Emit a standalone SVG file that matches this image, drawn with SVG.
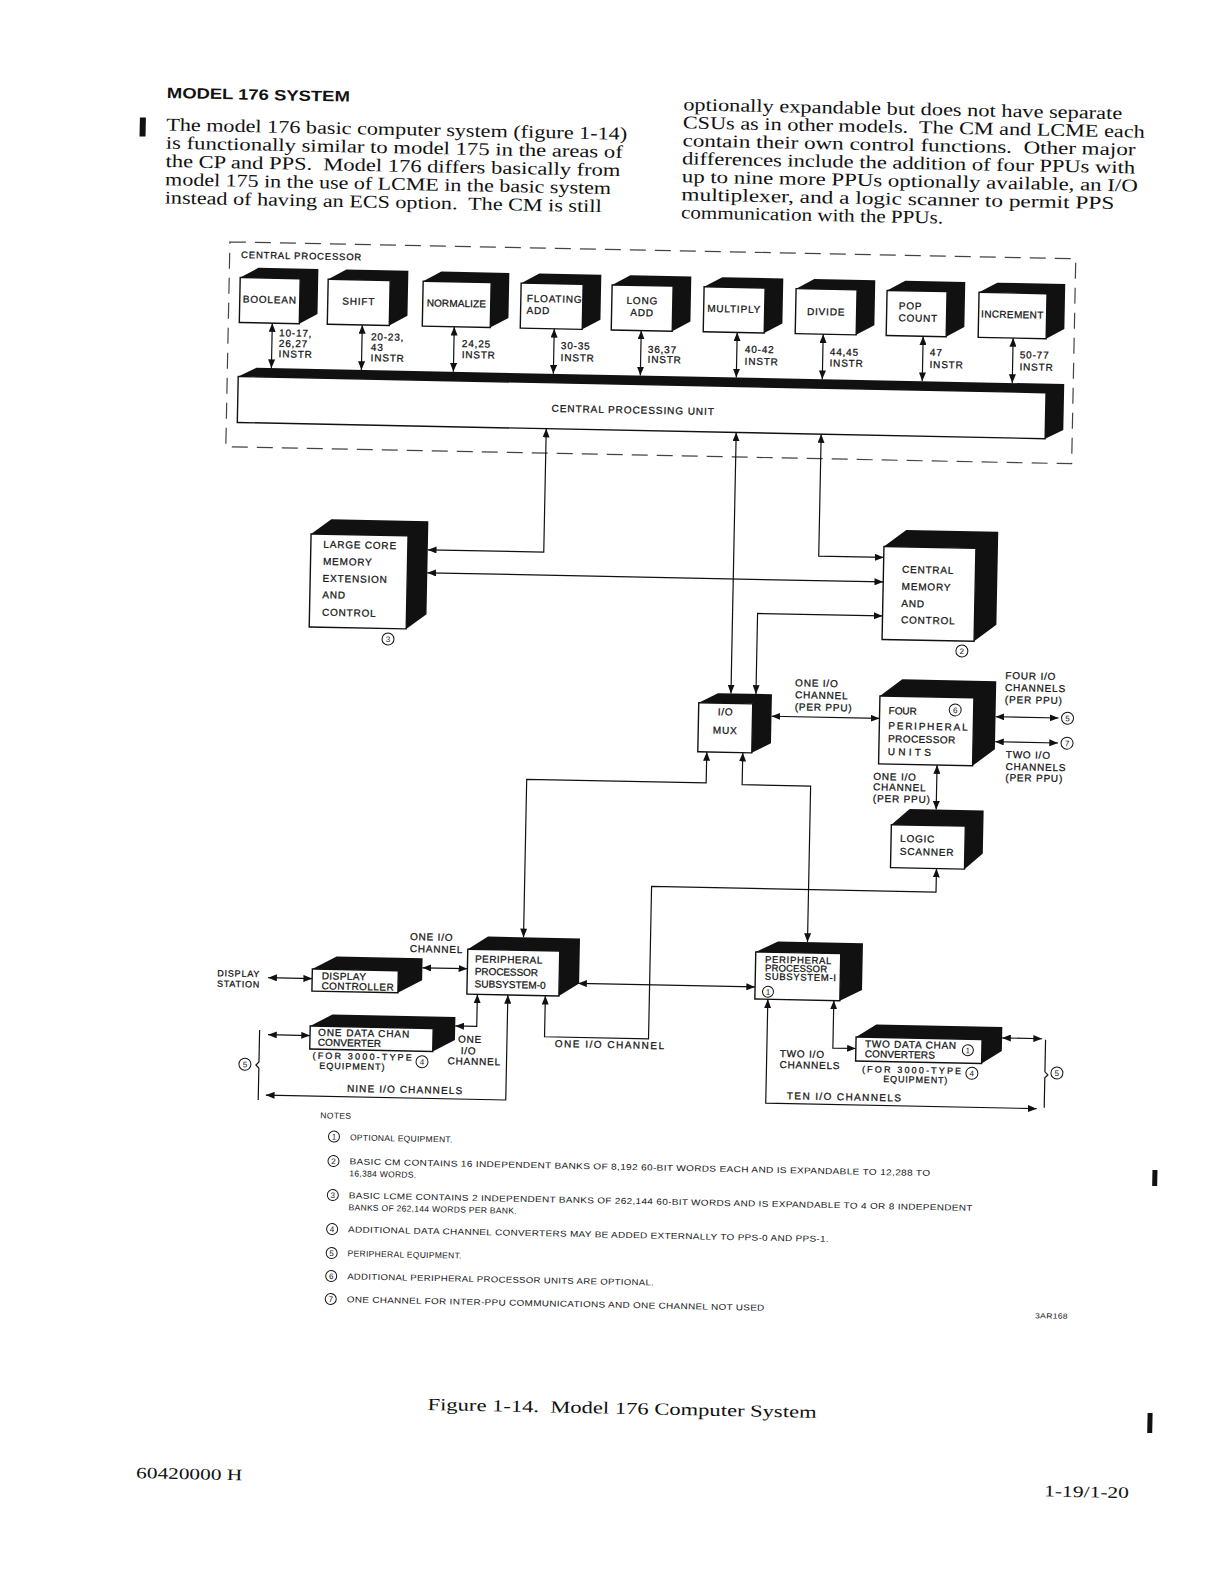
<svg xmlns="http://www.w3.org/2000/svg" width="1218" height="1581" viewBox="0 0 1218 1581">
<defs>
<style>
.lbl{font-family:"Liberation Sans",Arial,sans-serif;font-size:10px;letter-spacing:0.8px;fill:#111;stroke:#111;stroke-width:0.25}
.sm{font-family:"Liberation Sans",Arial,sans-serif;font-size:8.5px;letter-spacing:0.3px;fill:#111}
.ser{font-family:"Liberation Serif","Times New Roman",serif;font-size:18px;fill:#111}
.ttl{font-family:"Liberation Sans",Arial,sans-serif;font-size:15px;font-weight:bold;fill:#111}
.c{text-anchor:middle}
.blk{fill:#111}
.face{fill:#fff;stroke:#111;stroke-width:1.4}
.ln{fill:none;stroke:#111;stroke-width:1.2}
.ar{marker-start:url(#ah);marker-end:url(#ah)}
.dash{fill:none;stroke:#444;stroke-width:1.2;stroke-dasharray:16 9}
.cir{fill:#fff;stroke:#111;stroke-width:1}
.num{font-family:"Liberation Sans",Arial,sans-serif;font-size:8px;text-anchor:middle;fill:#111}
.bar{fill:#111}
</style>
<marker id="ah" viewBox="0 0 10 8" refX="10" refY="4" markerWidth="9" markerHeight="7" orient="auto-start-reverse" markerUnits="userSpaceOnUse"><path d="M0,0 L10,4 L0,8 z" fill="#111"/></marker>
</defs>
<rect width="1218" height="1581" fill="#fff"/>
<g transform="rotate(1.15 609 790)">

<g id="page-text">
<rect class="bar" x="126.5" y="127" width="6" height="19"/>
<text class="ttl" x="153" y="107" textLength="183" lengthAdjust="spacingAndGlyphs">MODEL 176 SYSTEM</text>
<text class="ser" x="153" y="139.5" textLength="461" lengthAdjust="spacingAndGlyphs">The model 176 basic computer system (figure 1-14)</text>
<text class="ser" x="153" y="157.7" textLength="457" lengthAdjust="spacingAndGlyphs">is functionally similar to model 175 in the areas of</text>
<text class="ser" x="153" y="176" textLength="455" lengthAdjust="spacingAndGlyphs">the CP and PPS.&#160; Model 176 differs basically from</text>
<text class="ser" x="153" y="194.2" textLength="446" lengthAdjust="spacingAndGlyphs">model 175 in the use of LCME in the basic system</text>
<text class="ser" x="153" y="212.5" textLength="437" lengthAdjust="spacingAndGlyphs">instead of having an ECS option.&#160; The CM is still</text>
<text class="ser" x="669.5" y="109" textLength="439" lengthAdjust="spacingAndGlyphs">optionally expandable but does not have separate</text>
<text class="ser" x="669.5" y="127" textLength="462" lengthAdjust="spacingAndGlyphs">CSUs as in other models.&#160; The CM and LCME each</text>
<text class="ser" x="669.5" y="145" textLength="453" lengthAdjust="spacingAndGlyphs">contain their own control functions.&#160; Other major</text>
<text class="ser" x="669.5" y="163" textLength="453" lengthAdjust="spacingAndGlyphs">differences include the addition of four PPUs with</text>
<text class="ser" x="669.5" y="181" textLength="456" lengthAdjust="spacingAndGlyphs">up to nine more PPUs optionally available, an I/O</text>
<text class="ser" x="669.5" y="199" textLength="433" lengthAdjust="spacingAndGlyphs">multiplexer, and a logic scanner to permit PPS</text>
<text class="ser" x="669.5" y="217" textLength="262" lengthAdjust="spacingAndGlyphs">communication with the PPUs.</text>
</g>

<g id="cp-frame">
<rect class="dash" x="219" y="249.5" width="846" height="205"/>
<text class="lbl" x="230.5" y="265.5" style="font-size:9.5px">CENTRAL PROCESSOR</text>
</g>

<g id="boolean"><polygon class="blk" points="230,285 248,275 308,275 308,320 290,330 290,285"/><rect class="face" x="230" y="285" width="60" height="45"/><text class="lbl c" x="260" y="310">BOOLEAN</text></g>
<g id="shift"><polygon class="blk" points="318,285 336,275 398,275 398,320 380,330 380,285"/><rect class="face" x="318" y="285" width="62" height="45"/><text class="lbl c" x="349" y="310">SHIFT</text></g>
<g id="normalize"><polygon class="blk" points="413,285 431,275 499,275 499,320 481,330 481,285"/><rect class="face" x="413" y="285" width="68" height="45"/><text class="lbl c" x="447" y="310" textLength="60">NORMALIZE</text></g>
<g id="floating-add"><polygon class="blk" points="511,285 529,275 591,275 591,320 573,330 573,285"/><rect class="face" x="511" y="285" width="62" height="45"/><text class="lbl" x="517" y="303.5">FLOATING</text><text class="lbl" x="517" y="315.5">ADD</text></g>
<g id="long-add"><polygon class="blk" points="602,285 620,275 681,275 681,320 663,330 663,285"/><rect class="face" x="602" y="285" width="61" height="45"/><text class="lbl c" x="632.5" y="303.5">LONG</text><text class="lbl c" x="632.5" y="315.5">ADD</text></g>
<g id="multiply"><polygon class="blk" points="694,285 712,275 773,275 773,320 755,330 755,285"/><rect class="face" x="694" y="285" width="61" height="45"/><text class="lbl c" x="724.5" y="310">MULTIPLY</text></g>
<g id="divide"><polygon class="blk" points="786,285 804,275 865,275 865,320 847,330 847,285"/><rect class="face" x="786" y="285" width="61" height="45"/><text class="lbl c" x="816.5" y="311">DIVIDE</text></g>
<g id="pop-count"><polygon class="blk" points="877,285 895,275 955,275 955,320 937,330 937,285"/><rect class="face" x="877" y="285" width="60" height="45"/><text class="lbl" x="889" y="303.5">POP</text><text class="lbl" x="889" y="315.5">COUNT</text></g>
<g id="increment"><polygon class="blk" points="969,285 987,275 1055,275 1055,320 1037,330 1037,285"/><rect class="face" x="969" y="285" width="68" height="45"/><text class="lbl c" x="1003" y="310" textLength="63">INCREMENT</text></g>

<g id="cpu"><polygon class="blk" points="230,384 248,375 1056,375 1056,421 1038,430 1038,384"/><rect class="face" x="230" y="384" width="808" height="46"/><text class="lbl" x="544" y="413" textLength="163">CENTRAL PROCESSING UNIT</text></g>

<g id="lcme"><polygon class="blk" points="306,540 326,525 423,525 423,618 403,633 403,540"/><rect class="face" x="306" y="540" width="97" height="93"/>
<text class="lbl" x="318.5" y="553.5">LARGE CORE</text><text class="lbl" x="318.5" y="570.5">MEMORY</text><text class="lbl" x="318.5" y="587.5">EXTENSION</text><text class="lbl" x="318.5" y="604">AND</text><text class="lbl" x="318.5" y="621.5">CONTROL</text>
<circle class="cir" cx="385" cy="643.5" r="6"/><text class="num" x="385" y="646.5">3</text></g>

<g id="cm"><polygon class="blk" points="879,541 901,524 993,524 993,617 971,634 971,541"/><rect class="face" x="879" y="541" width="92" height="93"/>
<text class="lbl" x="897.5" y="567">CENTRAL</text><text class="lbl" x="897.5" y="584">MEMORY</text><text class="lbl" x="897.5" y="601">AND</text><text class="lbl" x="897.5" y="617.5">CONTROL</text>
<circle class="cir" cx="959" cy="644" r="6"/><text class="num" x="959" y="647">2</text></g>

<g id="io-mux"><polygon class="blk" points="697,701 716,691 770,691 770,740 751,750 751,701"/><rect class="face" x="697" y="701" width="54" height="49"/>
<text class="lbl c" x="724" y="713">I/O</text><text class="lbl c" x="724" y="731.5">MUX</text></g>

<g id="ppu"><polygon class="blk" points="878,690.5 900,673.5 994,673.5 994,741.5 972,758.5 972,690.5"/><rect class="face" x="878" y="690.5" width="94" height="68"/>
<text class="lbl" x="887" y="708.5" textLength="29">FOUR</text><text class="lbl" x="887" y="723.5" textLength="80">PERIPHERAL</text><text class="lbl" x="887" y="736.5" textLength="68">PROCESSOR</text><text class="lbl" x="887" y="749.5" textLength="44">UNITS</text>
<circle class="cir" cx="953.5" cy="703" r="6"/><text class="num" x="953.5" y="706">6</text></g>

<g id="logic-scanner"><polygon class="blk" points="892,819 910,803 984,803 984,846 966,862 966,819"/><rect class="face" x="892" y="819" width="74" height="43"/>
<text class="lbl" x="901" y="836">LOGIC</text><text class="lbl" x="901" y="849">SCANNER</text></g>

<g id="pps0"><polygon class="blk" points="471,952 491,939 583,939 583,984 563,997 563,952"/><rect class="face" x="471" y="952" width="92" height="45"/>
<text class="lbl" x="478.5" y="965" textLength="68">PERIPHERAL</text><text class="lbl" x="478.5" y="977.5" textLength="64">PROCESSOR</text><text class="lbl" x="478.5" y="990" textLength="72">SUBSYSTEM-0</text></g>

<g id="pps1"><polygon class="blk" points="759,949 781,938 866,938 866,985 844,996 844,949"/><rect class="face" x="759" y="949" width="85" height="47"/>
<text class="lbl" x="768.5" y="959.5" textLength="67" style="font-size:9.5px">PERIPHERAL</text><text class="lbl" x="768.5" y="968" textLength="63" style="font-size:9.5px">PROCESSOR</text><text class="lbl" x="768.5" y="976.5" textLength="72" style="font-size:9.5px">SUBSYSTEM-I</text>
<circle class="cir" cx="772" cy="988.5" r="5.5"/><text class="num" x="772" y="991.5">1</text></g>

<g id="display-controller"><polygon class="blk" points="316,975 340,962 426,962 426,984 402,997 402,975"/><rect class="face" x="316" y="975" width="86" height="22"/>
<text class="lbl" x="325.5" y="985" textLength="45">DISPLAY</text><text class="lbl" x="325.5" y="995" textLength="73">CONTROLLER</text></g>

<g id="display-station"><text class="lbl" x="221" y="984" textLength="43" style="font-size:9px">DISPLAY</text><text class="lbl" x="221" y="994.5" textLength="43" style="font-size:9px">STATION</text></g>

<g id="converter0"><polygon class="blk" points="315,1032 337,1020 460,1020 460,1043 438,1055 438,1032"/><rect class="face" x="315" y="1032" width="123" height="23"/>
<text class="lbl" x="323" y="1041.5" textLength="92">ONE DATA CHAN</text><text class="lbl" x="323" y="1051.5" textLength="64">CONVERTER</text>
<text class="lbl" x="318" y="1064.5" textLength="100" style="font-size:9px">(FOR 3000-TYPE</text><text class="lbl" x="325" y="1074.5" textLength="66" style="font-size:9px">EQUIPMENT)</text>
<circle class="cir" cx="427.5" cy="1065.5" r="6"/><text class="num" x="427.5" y="1068.5">4</text></g>

<g id="converters1"><polygon class="blk" points="861,1032 881,1019 1007,1019 1007,1043 987,1056 987,1032"/><rect class="face" x="861" y="1032" width="126" height="24"/>
<text class="lbl" x="870" y="1042" textLength="92">TWO DATA CHAN</text><text class="lbl" x="870" y="1052" textLength="71">CONVERTERS</text>
<circle class="cir" cx="973" cy="1043" r="5.5"/><text class="num" x="973" y="1046">1</text>
<text class="lbl" x="867.5" y="1067" textLength="100" style="font-size:9px">(FOR 3000-TYPE</text><text class="lbl" x="889" y="1076.5" textLength="65" style="font-size:9px">EQUIPMENT)</text>
<circle class="cir" cx="977.5" cy="1066" r="6"/><text class="num" x="977.5" y="1069">4</text></g>

<g id="peripherals">
<path class="ln" d="M264.5,1037 V1069 L261.5,1072 L264.5,1075 V1107"/>
<circle class="cir" cx="250.5" cy="1071.5" r="6"/><text class="num" x="250.5" y="1074.5">5</text>
<path class="ln" d="M1050.5,1031 V1063 L1053.5,1066 L1050.5,1069 V1099"/>
<circle class="cir" cx="1062.5" cy="1064" r="6"/><text class="num" x="1062.5" y="1067">5</text>
<circle class="cir" cx="1066" cy="709" r="6"/><text class="num" x="1066" y="712">5</text>
<circle class="cir" cx="1066" cy="734" r="6"/><text class="num" x="1066" y="737">7</text>
</g>

<g id="connectors">
<path class="ln ar" d="M263,330 V375"/>
<path class="ln ar" d="M353,330 V375"/>
<path class="ln ar" d="M445,330 V375"/>
<path class="ln ar" d="M545,330 V375"/>
<path class="ln ar" d="M632,330 V375"/>
<path class="ln ar" d="M728,330 V375"/>
<path class="ln ar" d="M814,330 V375"/>
<path class="ln ar" d="M914,330 V375"/>
<path class="ln ar" d="M1004,330 V375"/>
<path class="ln ar" d="M539,430 V553.5 H423"/>
<path class="ln ar" d="M423,576.5 H879"/>
<path class="ln ar" d="M814,430 V552 H879"/>
<path class="ln ar" d="M729,430 V691"/>
<path class="ln ar" d="M754,691 V610.5 H879"/>
<path class="ln ar" d="M770,713 H878"/>
<path class="ln ar" d="M994,709 H1057"/>
<path class="ln ar" d="M994,734 H1057"/>
<path class="ln ar" d="M936.5,758.5 V803"/>
<path class="ln ar" d="M706,750 V781 H526.5 V939"/>
<path class="ln ar" d="M742,750 V782 H810.5 V938"/>
<path class="ln ar" d="M582,984 H759"/>
<path class="ln ar" d="M938,862 V885.5 H653.5 V1038 H549.5 V997"/>
<path class="ln ar" d="M272,984.5 H316"/>
<path class="ln ar" d="M426,971.5 H471"/>
<path class="ln ar" d="M273,1041.5 H315"/>
<path class="ln ar" d="M481.5,997 V1029 H460"/>
<path class="ln ar" d="M512,997 V1102 H272"/>
<path class="ln ar" d="M772,996 V1100 H1043"/>
<path class="ln ar" d="M838,996 V1043.5 H861"/>
<path class="ln ar" d="M1007,1030 H1047"/>
</g>

<g id="connector-labels">
<text class="lbl"><tspan x="270" y="343">10-17,</tspan><tspan x="270" y="353.5">26,27</tspan><tspan x="270" y="364">INSTR</tspan></text>
<text class="lbl"><tspan x="362" y="345">20-23,</tspan><tspan x="362" y="355.5">43</tspan><tspan x="362" y="366">INSTR</tspan></text>
<text class="lbl"><tspan x="453" y="350">24,25</tspan><tspan x="453" y="361">INSTR</tspan></text>
<text class="lbl"><tspan x="552" y="350">30-35</tspan><tspan x="552" y="362">INSTR</tspan></text>
<text class="lbl"><tspan x="639" y="352">36,37</tspan><tspan x="639" y="362">INSTR</tspan></text>
<text class="lbl"><tspan x="736" y="350">40-42</tspan><tspan x="736" y="362">INSTR</tspan></text>
<text class="lbl"><tspan x="821" y="351">44,45</tspan><tspan x="821" y="362">INSTR</tspan></text>
<text class="lbl"><tspan x="921" y="349.5">47</tspan><tspan x="921" y="361.5">INSTR</tspan></text>
<text class="lbl"><tspan x="1011" y="350">50-77</tspan><tspan x="1011" y="362">INSTR</tspan></text>
<text class="lbl"><tspan x="793" y="682.5">ONE I/O</tspan><tspan x="793" y="694.5">CHANNEL</tspan><tspan x="793" y="706.5">(PER PPU)</tspan></text>
<text class="lbl"><tspan x="1003" y="671">FOUR I/O</tspan><tspan x="1003" y="683">CHANNELS</tspan><tspan x="1003" y="695">(PER PPU)</tspan></text>
<text class="lbl"><tspan x="1005" y="750">TWO I/O</tspan><tspan x="1005" y="762">CHANNELS</tspan><tspan x="1005" y="773">(PER PPU)</tspan></text>
<text class="lbl"><tspan x="873" y="774.5">ONE I/O</tspan><tspan x="873" y="785">CHANNEL</tspan><tspan x="873" y="796.5">(PER PPU)</tspan></text>
<text class="lbl"><tspan x="413" y="944">ONE I/O</tspan><tspan x="413" y="956">CHANNEL</tspan></text>
<text class="lbl"><tspan x="463" y="1045.5">ONE</tspan><tspan x="466" y="1057">I/O</tspan><tspan x="453" y="1067.5">CHANNEL</tspan></text>
<text class="lbl" x="560" y="1048" textLength="110">ONE I/O CHANNEL</text>
<text class="lbl" x="353" y="1097" textLength="116">NINE I/O CHANNELS</text>
<text class="lbl" x="793" y="1095.5" textLength="115">TEN I/O CHANNELS</text>
<text class="lbl"><tspan x="785" y="1053.5">TWO I/O</tspan><tspan x="785" y="1064.5">CHANNELS</tspan></text>
</g>

<g id="notes">
<text class="sm" x="327" y="1124">NOTES</text>
<circle class="cir" cx="341" cy="1142" r="5.5"/><text class="num" x="341" y="1145">1</text>
<text class="sm" x="357" y="1145.5">OPTIONAL EQUIPMENT.</text>
<circle class="cir" cx="341" cy="1166.5" r="5.5"/><text class="num" x="341" y="1169.5">2</text>
<text class="sm" x="357" y="1169.5" textLength="581" lengthAdjust="spacingAndGlyphs">BASIC CM CONTAINS 16 INDEPENDENT BANKS OF 8,192 60-BIT WORDS EACH AND IS EXPANDABLE TO 12,288 TO</text>
<text class="sm" x="357" y="1181.5">16,384 WORDS.</text>
<circle class="cir" cx="341" cy="1200.5" r="5.5"/><text class="num" x="341" y="1203.5">3</text>
<text class="sm" x="357" y="1203.5" textLength="624" lengthAdjust="spacingAndGlyphs">BASIC LCME CONTAINS 2 INDEPENDENT BANKS OF 262,144 60-BIT WORDS AND IS EXPANDABLE TO 4 OR 8 INDEPENDENT</text>
<text class="sm" x="357" y="1215.5">BANKS OF 262,144 WORDS PER BANK.</text>
<circle class="cir" cx="341" cy="1234.5" r="5.5"/><text class="num" x="341" y="1237.5">4</text>
<text class="sm" x="357" y="1237.5" textLength="481" lengthAdjust="spacingAndGlyphs">ADDITIONAL DATA CHANNEL CONVERTERS MAY BE ADDED EXTERNALLY TO PPS-0 AND PPS-1.</text>
<circle class="cir" cx="341" cy="1258.5" r="5.5"/><text class="num" x="341" y="1261.5">5</text>
<text class="sm" x="357" y="1261.5">PERIPHERAL EQUIPMENT.</text>
<circle class="cir" cx="341" cy="1281.5" r="5.5"/><text class="num" x="341" y="1284.5">6</text>
<text class="sm" x="357" y="1284.5" textLength="307" lengthAdjust="spacingAndGlyphs">ADDITIONAL PERIPHERAL PROCESSOR UNITS ARE OPTIONAL.</text>
<circle class="cir" cx="341" cy="1304.5" r="5.5"/><text class="num" x="341" y="1307.5">7</text>
<text class="sm" x="357" y="1307.5" textLength="418" lengthAdjust="spacingAndGlyphs">ONE CHANNEL FOR INTER-PPU COMMUNICATIONS AND ONE CHANNEL NOT USED</text>
<text class="sm" x="1045.5" y="1309.5" style="font-size:7.5px" textLength="33" lengthAdjust="spacingAndGlyphs">3AR168</text>
</g>

<g id="footer">
<rect class="bar" x="1160" y="1159" width="5" height="16"/>
<rect class="bar" x="1160" y="1402" width="5" height="20"/>
<text class="ser" x="440" y="1413.5" style="font-size:17px" textLength="389" lengthAdjust="spacingAndGlyphs">Figure 1-14.&#160; Model 176 Computer System</text>
<text class="ser" x="150" y="1487.5" style="font-size:16px" textLength="106" lengthAdjust="spacingAndGlyphs">60420000 H</text>
<text class="ser" x="1058" y="1487.5" style="font-size:16px" textLength="85" lengthAdjust="spacingAndGlyphs">1-19/1-20</text>
</g>

</g>
</svg>
